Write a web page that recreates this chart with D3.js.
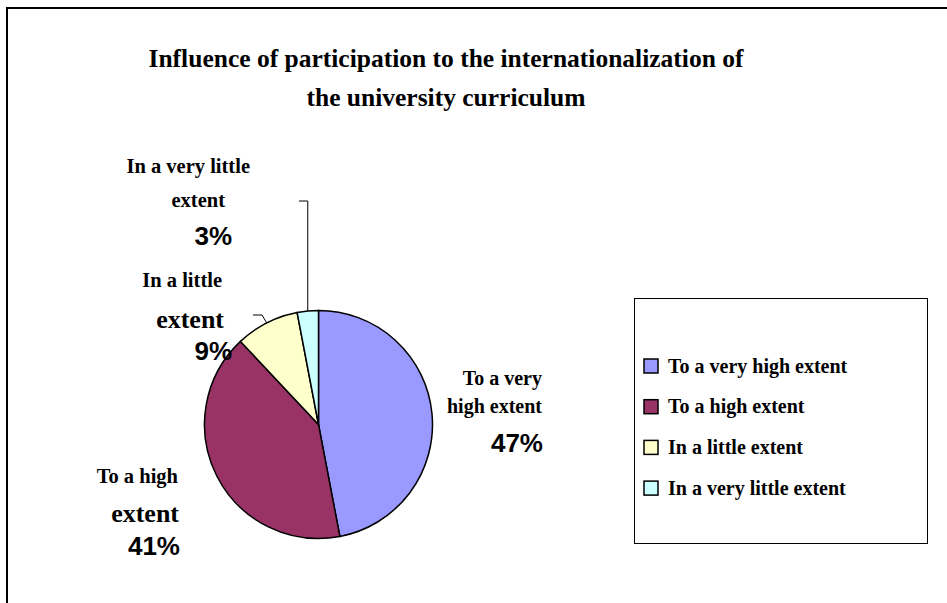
<!DOCTYPE html>
<html>
<head>
<meta charset="utf-8">
<script src="https://cdn.jsdelivr.net/npm/d3@7"></script>
<style>
  html, body { margin: 0; padding: 0; background: #fff; }
  svg { display: block; }
</style>
</head>
<body>
<svg id="chart" width="947" height="603"></svg>
<script>
// ---- data ----
const categories = ["To a very high extent", "To a high extent", "In a little extent", "In a very little extent"];
const values = [47, 41, 9, 3];
const colors = ["#9999FF", "#993366", "#FFFFCC", "#CCFFFF"];
const labelLines = [["To a very", "high extent"], ["To a high", "extent"], ["In a little", "extent"], ["In a very little", "extent"]];
const titleLines = ["Influence of participation to the internationalization of", "the university curriculum"];

const svg = d3.select("#chart");
const serif = "'Liberation Serif', 'Times New Roman', serif";
const sans = "'Liberation Sans', Arial, sans-serif";

// outer frame
svg.append("rect").attr("x", 7).attr("y", 8).attr("width", 980).attr("height", 640)
  .attr("fill", "none").attr("stroke", "#000").attr("stroke-width", 2);

// title
svg.append("g").selectAll("text").data(titleLines).join("text")
  .attr("x", 446).attr("y", (d, i) => 67 + i * 39)
  .attr("text-anchor", "middle")
  .attr("font-family", serif).attr("font-weight", "bold").attr("font-size", 25.5)
  .attr("fill", "#000").text(d => d);

// pie
const cx = 318.5, cy = 424.5, r = 114;
const pie = d3.pie().sort(null).value(d => d)(values);
const arc = d3.arc().innerRadius(0).outerRadius(r);
const g = svg.append("g").attr("transform", `translate(${cx},${cy})`);
g.selectAll("path").data(pie).join("path")
  .attr("d", arc)
  .attr("fill", (d, i) => colors[i])
  .attr("stroke", "#000").attr("stroke-width", 1.5);

// leader lines (from slice mid-angle on the rim)
function rim(d) {
  const a = (d.startAngle + d.endAngle) / 2;
  return [cx + r * Math.sin(a), cy - r * Math.cos(a)];
}
const p3 = rim(pie[3]);
svg.append("path")
  .attr("d", `M${p3[0]},${p3[1]} L${p3[0]},201 L299,201`)
  .attr("fill", "none").attr("stroke", "#000").attr("stroke-width", 1);
const p2 = rim(pie[2]);
svg.append("path")
  .attr("d", `M${p2[0]},${p2[1]} L262,315 L253,315`)
  .attr("fill", "none").attr("stroke", "#000").attr("stroke-width", 1);

// data labels
const labelLayout = [
  { lines: [[542, 385, 20, "end"], [542, 413, 20, "end"]], pct: [543, 452, "end"] },
  { lines: [[178, 483, 20.5, "end"], [179, 522, 26, "end"]], pct: [180, 555, "end"] },
  { lines: [[222, 287, 20.5, "end"], [224, 328, 26, "end"]], pct: [232, 360, "end"] },
  { lines: [[250, 173, 20.5, "end"], [225, 207, 20.5, "end"]], pct: [232, 245, "end"] }
];
const lab = svg.append("g");
values.forEach((v, i) => {
  const L = labelLayout[i];
  labelLines[i].forEach((t, j) => {
    const [x, y, fs, anchor] = L.lines[j];
    lab.append("text").attr("x", x).attr("y", y).attr("text-anchor", anchor)
      .attr("font-family", serif).attr("font-weight", "bold").attr("font-size", fs)
      .attr("fill", "#000").text(t);
  });
  lab.append("text").attr("x", L.pct[0]).attr("y", L.pct[1]).attr("text-anchor", L.pct[2])
    .attr("font-family", sans).attr("font-weight", "bold").attr("font-size", 26)
    .attr("fill", "#000").text(d3.format("d")(v) + "%");
});

// legend
const lg = svg.append("g");
lg.append("rect").attr("x", 634.5).attr("y", 298.5).attr("width", 293).attr("height", 245)
  .attr("fill", "#fff").attr("stroke", "#000").attr("stroke-width", 1);
const items = lg.selectAll("g.item").data(categories).join("g")
  .attr("class", "item")
  .attr("transform", (d, i) => `translate(644,${366 + i * 40.7})`);
items.append("rect").attr("x", 0).attr("y", -7).attr("width", 14).attr("height", 14)
  .attr("fill", (d, i) => colors[i]).attr("stroke", "#000").attr("stroke-width", 1.5);
items.append("text").attr("x", 24).attr("y", 6.5)
  .attr("font-family", serif).attr("font-weight", "bold").attr("font-size", 20)
  .attr("fill", "#000").text(d => d);
</script>
</body>
</html>
